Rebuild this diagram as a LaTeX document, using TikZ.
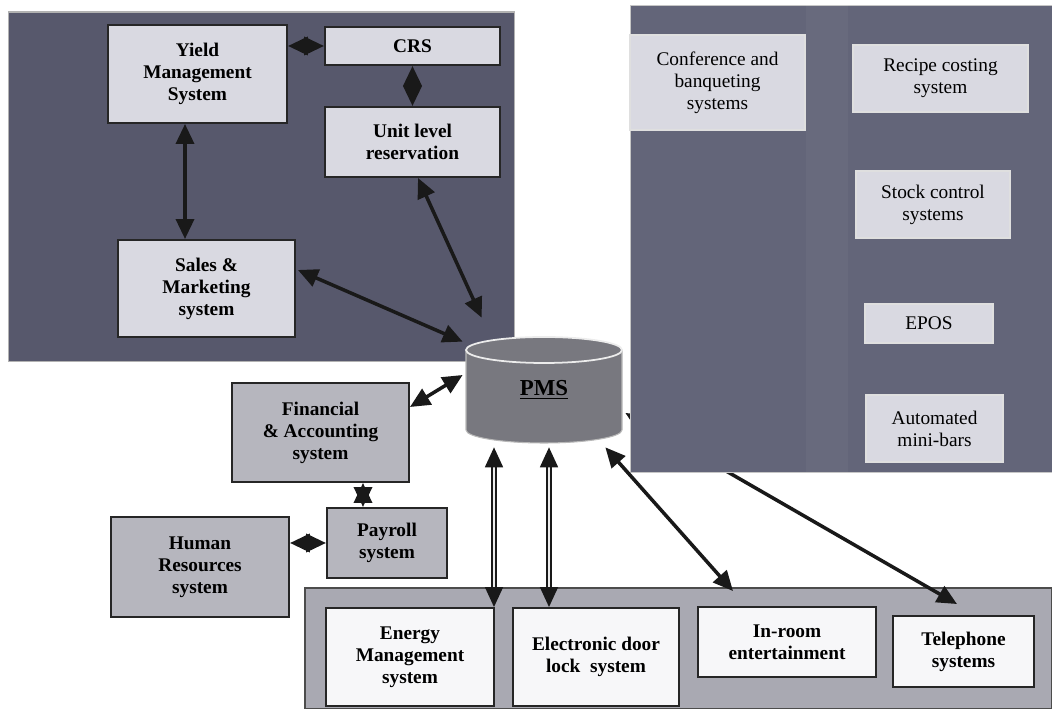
\documentclass[tikz,border=0pt]{standalone}
\usepackage{fontspec}
\setmainfont{Liberation Serif}
\usetikzlibrary{arrows.meta,calc}

\definecolor{panelDark}{HTML}{57586C}
\definecolor{panelRight}{HTML}{636579}
\definecolor{panelLow}{HTML}{A9A9B2}
\definecolor{boxLight}{HTML}{D9D9E1}
\definecolor{boxMid}{HTML}{B6B6BE}
\definecolor{boxWhite}{HTML}{F7F7F9}
\definecolor{drumGray}{HTML}{78787F}

\begin{document}
\begin{tikzpicture}[
  x=0.02cm, y=0.02cm,
  panel/.style={rectangle, inner sep=0pt},
  sysbox/.style={rectangle, draw=black!85, line width=1.1pt, align=center, inner sep=2pt,
    font=\fontsize{11}{12.5}\selectfont\bfseries},
  subbox/.style={rectangle, draw=white!75!gray, line width=0.6pt, fill=boxLight, align=center,
    inner sep=2pt, font=\fontsize{11}{12.5}\selectfont},
  link/.style={{Triangle[length=0.4cm,width=0.36cm]}-{Triangle[length=0.4cm,width=0.36cm]},
    line width=2pt, draw=black!90},
  tube/.style={link, line width=1pt, double=white!85!gray, double distance=1.4pt},
]
\useasboundingbox (0,0) rectangle (1052,709);

% --- group panels
\node[panel, fill=panelDark, draw=gray!60, line width=0.6pt,
  minimum width=10.14cm, minimum height=7cm] (reserv) at (261.5,522) {};
\node[panel, fill=panelLow, draw=black!70, line width=0.8pt,
  minimum width=14.94cm, minimum height=2.42cm] (guest) at (678.5,60.5) {};

% --- guest room systems
\node[sysbox, fill=boxWhite, minimum width=3.36cm, minimum height=1.96cm] (energy) at (410,52) {Energy\\Management\\system};
\node[sysbox, fill=boxWhite, minimum width=3.32cm, minimum height=1.96cm] (doorlock) at (596,52) {Electronic door\\lock~ system};
\node[sysbox, fill=boxWhite, minimum width=3.56cm, minimum height=1.4cm] (inroom) at (787,67) {In-room\\entertainment};
\node[sysbox, fill=boxWhite, minimum width=2.82cm, minimum height=1.42cm] (phone) at (963.5,57.5) {Telephone\\systems};

% --- PMS drum
\fill[drumGray] (466,359) -- (466,279) arc[start angle=180, end angle=360, x radius=78, y radius=13]
  -- (622,359) arc[start angle=0, end angle=180, x radius=78, y radius=13] -- cycle;
\draw[gray!55, line width=0.6pt] (466,359) -- (466,279) arc[start angle=180, end angle=360, x radius=78, y radius=13] -- (622,359);
\draw[white!85!gray, line width=1pt] (544,359) ellipse[x radius=78, y radius=13];
\node[inner sep=0pt, minimum width=3.12cm, minimum height=2.12cm,
  font=\fontsize{13}{15}\selectfont\bfseries] (pms) at (544,319) {\underline{PMS}};

% runs behind the F&B panel
\draw[link] ([xshift=0.06cm,yshift=-0.46cm]pms.east) -- ([xshift=-0.13cm,yshift=0.22cm]phone.north);

% --- food & beverage panel
\node[panel, fill=panelRight, draw=gray!45, line width=0.5pt,
  minimum width=8.44cm, minimum height=9.34cm] (fnb) at (841,470.5) {};
\fill[white, opacity=0.035] (806,237) rectangle (848,704);
\node[subbox, minimum width=3.5cm, minimum height=1.9cm] (conf) at (717.5,626.5) {Conference and\\banqueting\\systems};
\node[subbox, minimum width=3.5cm, minimum height=1.34cm] (recipe) at (940.5,630.5) {Recipe costing\\system};
\node[subbox, minimum width=3.08cm, minimum height=1.34cm] (stock) at (933,504.5) {Stock control\\systems};
\node[subbox, minimum width=2.56cm, minimum height=0.78cm] (epos) at (929,385.5) {EPOS};
\node[subbox, minimum width=2.74cm, minimum height=1.34cm] (minibar) at (934.5,280.5) {Automated\\mini-bars};

% --- reservations group
\node[sysbox, fill=boxLight, minimum width=3.58cm, minimum height=1.96cm] (yield) at (197.5,635) {Yield\\Management\\System};
\node[sysbox, fill=boxLight, minimum width=3.5cm, minimum height=0.76cm] (crs) at (412.5,663) {CRS};
\node[sysbox, fill=boxLight, minimum width=3.5cm, minimum height=1.4cm] (unit) at (412.5,567) {Unit level\\reservation};
\node[sysbox, fill=boxLight, minimum width=3.54cm, minimum height=1.94cm] (sales) at (206.5,420.5) {Sales \&\\Marketing\\system};

\draw[link] (crs.west -| yield.east) -- (crs.west);
\draw[link] (crs.south) -- (unit.north);
\draw[link] ([xshift=-0.25cm]yield.south) -- ([xshift=-0.25cm]yield.south |- sales.north);
\draw[link] ([xshift=0.11cm]unit.south) -- ([xshift=0.32cm,yshift=0.38cm]pms.north west);
\draw[link] ([xshift=0.04cm,yshift=0.37cm]sales.east) -- ([xshift=-0.06cm,yshift=-0.1cm]pms.north west);

% --- back office
\node[sysbox, fill=boxMid, minimum width=3.54cm, minimum height=1.98cm] (finance) at (320.5,276.5) {Financial\\\& Accounting\\system};
\node[sysbox, fill=boxMid, minimum width=2.4cm, minimum height=1.4cm] (payroll) at (387,166) {Payroll\\system};
\node[sysbox, fill=boxMid, minimum width=3.56cm, minimum height=2cm] (hr) at (200,142) {Human\\Resources\\system};

\draw[link] ([yshift=0.51cm]finance.east) -- ([xshift=-0.06cm,yshift=0.3cm]pms.west);
\draw[link] ([xshift=0.85cm]finance.south) -- ([xshift=0.85cm]finance.south |- payroll.north);
\draw[link] (payroll.west -| hr.east) -- (payroll.west);

% --- PMS to guest room systems
\draw[tube] ([xshift=-1cm,yshift=-0.08cm]pms.south) -- ([xshift=-1cm]pms.south |- energy.north);
\draw[tube] ([xshift=0.1cm,yshift=-0.08cm]pms.south) -- ([xshift=0.1cm]pms.south |- doorlock.north);
\draw[link] ([xshift=-0.34cm,yshift=-0.08cm]pms.south east) -- ([xshift=-1.08cm,yshift=0.3cm]inroom.north);
\end{tikzpicture}
\end{document}
